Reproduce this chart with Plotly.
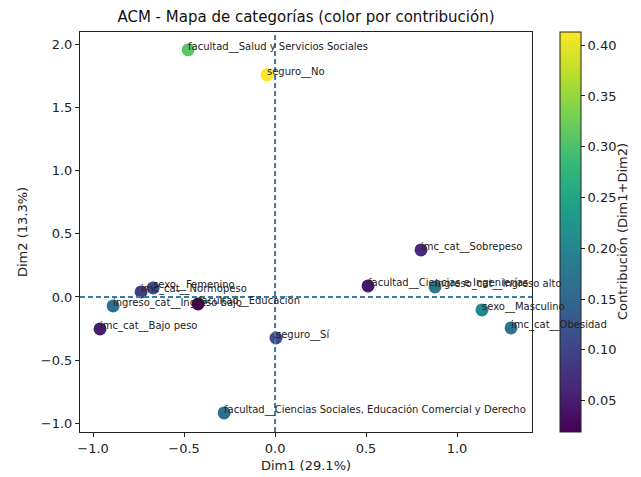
import plotly.graph_objects as go

categories = [
    "facultad__Salud y Servicios Sociales",
    "seguro__No",
    "imc_cat__Sobrepeso",
    "facultad__Ciencias e Ingenierías",
    "ingreso_cat__Ingreso alto",
    "sexo__Masculino",
    "imc_cat__Obesidad",
    "seguro__Sí",
    "facultad__Ciencias Sociales, Educación Comercial y Derecho",
    "sexo__Femenino",
    "imc_cat__Normopeso",
    "ingreso_cat__Ingreso bajo",
    "facultad__Educación",
    "imc_cat__Bajo peso",
]
dim1 = [-0.478, -0.044, 0.802, 0.511, 0.879, 1.137, 1.297, 0.005, -0.280,
        -0.670, -0.736, -0.890, -0.423, -0.962]
dim2 = [1.956, 1.758, 0.372, 0.087, 0.079, -0.103, -0.245, -0.325, -0.918,
        0.071, 0.040, -0.071, -0.055, -0.253]
contrib = [0.310, 0.413, 0.066, 0.045, 0.175, 0.200, 0.168, 0.108, 0.162,
           0.112, 0.090, 0.165, 0.019, 0.052]

title_text = "ACM - Mapa de categorías (color por contribución)"
xlabel = "Dim1 (29.1%)"
ylabel = "Dim2 (13.3%)"
cbar_label = "Contribución (Dim1+Dim2)"
cbar_ticks = [0.05, 0.10, 0.15, 0.20, 0.25, 0.30, 0.35, 0.40]
axis_ticks_x = [-1.0, -0.5, 0.0, 0.5, 1.0]
axis_ticks_y = [-1.0, -0.5, 0.0, 0.5, 1.0, 1.5, 2.0]

FONT = "DejaVu Sans"
L, R, T, B = 80, 532, 32, 432
W, H = 641, 477
PW = R - L

fig = go.Figure()
fig.add_trace(go.Scatter(
    x=dim1, y=dim2, mode="markers",
    marker=dict(
        size=13, color=contrib, colorscale="Viridis",
        cmin=min(contrib), cmax=max(contrib), line=dict(width=0),
        colorbar=dict(
            x=(560 - L) / PW, xanchor="left", xpad=0, ypad=0,
            y=0.5, yanchor="middle", len=1.0, lenmode="fraction",
            thickness=21, outlinewidth=1, outlinecolor="#222",
            tickvals=cbar_ticks, ticktext=[f"{v:.2f}" for v in cbar_ticks],
            ticks="outside", ticklen=4, tickcolor="#222",
            tickfont=dict(family=FONT, size=13, color="#222"),
        ),
    ),
    showlegend=False, hoverinfo="skip",
))

for name, xv, yv in zip(categories, dim1, dim2):
    fig.add_annotation(
        x=xv, y=yv, text=name, showarrow=False,
        xanchor="left", yanchor="middle", xshift=-2, yshift=3,
        font=dict(family=FONT, size=10, color="#222"),
    )

fig.add_annotation(
    xref="paper", yref="paper", x=(622 - L) / PW, y=0.5, text=cbar_label,
    textangle=-90, showarrow=False, xanchor="center", yanchor="middle",
    font=dict(family=FONT, size=13, color="#222"),
)
fig.add_annotation(
    xref="paper", yref="paper", x=(22 - L) / PW, y=0.5, text=ylabel,
    textangle=-90, showarrow=False, xanchor="center", yanchor="middle",
    font=dict(family=FONT, size=13, color="#222"),
)

dash_line = dict(color="#3a7ea6", width=2, dash="5px,3px")
fig.add_shape(type="line", xref="x", yref="paper", x0=0, x1=0, y0=0, y1=1,
              line=dash_line, layer="above")
fig.add_shape(type="line", xref="paper", yref="y", x0=0, x1=1, y0=0, y1=0,
              line=dash_line, layer="above")

axis_common = dict(
    showgrid=False, zeroline=False, showline=True, linecolor="#222",
    linewidth=1, mirror=True, ticks="outside", ticklen=4, tickcolor="#222",
    tickfont=dict(family=FONT, size=13, color="#222"),
)

fig.update_layout(
    width=W, height=H,
    margin=dict(l=L, r=W - R, t=T, b=H - B, autoexpand=False),
    paper_bgcolor="white", plot_bgcolor="white",
    title=dict(text=title_text, x=(L + R) / 2 / W, xanchor="center",
               y=1 - 17 / H, yanchor="middle",
               font=dict(family=FONT, size=15, color="#111")),
    xaxis=dict(range=[-1.072, 1.412], tickvals=axis_ticks_x,
               ticktext=[f"{v:.1f}".replace("-", "\u2212") for v in axis_ticks_x],
               title=dict(text=xlabel, standoff=6,
                          font=dict(family=FONT, size=13, color="#222")),
               **axis_common),
    yaxis=dict(range=[-1.069, 2.097], tickvals=axis_ticks_y,
               ticktext=[f"{v:.1f}".replace("-", "\u2212") for v in axis_ticks_y],
               **axis_common),
)

fig.write_html(
    "out.html",
    config={"displayModeBar": False},
    post_script="document.body.style.margin='0';document.body.style.overflow='hidden';",
)
